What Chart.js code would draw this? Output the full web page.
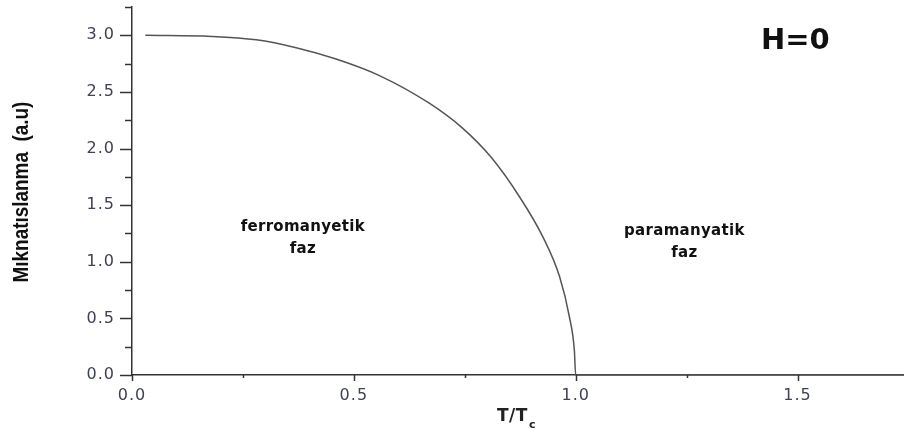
<!DOCTYPE html>
<html>
<head>
<meta charset="utf-8">
<script src="https://cdn.jsdelivr.net/npm/chart.js@4.4.0/dist/chart.umd.min.js"></script>
<style>
  html, body { margin: 0; padding: 0; background: #fff; }
  #wrap { width: 904px; height: 441px; }
</style>
</head>
<body>
<div id="wrap"><canvas id="magnet"></canvas></div>
<script>
// reduced temperature T/Tc and magnetization along the curve
var temps = [0.03, 0.18, 0.28, 0.37, 0.46, 0.56, 0.67, 0.745, 0.81, 0.874, 0.926, 0.964, 0.986, 0.997, 1.0, 1.2, 1.4, 1.6, 1.74];
var magn  = [3.00, 2.99, 2.96, 2.89, 2.79, 2.64, 2.40, 2.18, 1.92, 1.57, 1.22, 0.865, 0.51, 0.22, 0.0, 0.0, 0.0, 0.0, 0.0];

var xTicks = [0.0, 0.5, 1.0, 1.5];
var yTicks = [0.0, 0.5, 1.0, 1.5, 2.0, 2.5, 3.0];

var phaseLabels = [
  { lines: ['ferromanyetik', 'faz'], x: 0.385, y: 1.31 },
  { lines: ['paramanyatik', 'faz'], x: 1.245, y: 1.27 }
];

var points = temps.map(function (t, i) { return { x: t, y: magn[i] }; });

var axisColor = '#333';
var labelColor = '#3f4250';
var tickFont = { family: 'DejaVu Sans, sans-serif', size: 16 };

// slightly wider spacing for the tick numbers
var spacing = {
  id: 'spacing',
  beforeDraw: function (chart) { chart.ctx.letterSpacing = '1px'; },
  afterDraw: function (chart) { chart.ctx.letterSpacing = '0px'; }
};

// ticks every 0.25, longer ones where a label sits
var tickMarks = {
  id: 'tickMarks',
  afterDraw: function (chart) {
    var ctx = chart.ctx, xs = chart.scales.x, ys = chart.scales.y;
    ctx.save();
    ctx.strokeStyle = axisColor;
    ctx.lineWidth = 1.5;
    var v, p, major;
    for (v = 0; v <= xs.max + 1e-6; v += 0.25) {
      p = Math.round(xs.getPixelForValue(v)) + 0.5;
      major = Math.abs(v * 2 - Math.round(v * 2)) < 1e-6;
      ctx.beginPath();
      ctx.moveTo(p, ys.bottom);
      ctx.lineTo(p, ys.bottom + (major ? 6 : 3));
      ctx.stroke();
    }
    for (v = 0; v <= ys.max + 1e-6; v += 0.25) {
      p = Math.round(ys.getPixelForValue(v)) + 0.5;
      major = Math.abs(v * 2 - Math.round(v * 2)) < 1e-6;
      ctx.beginPath();
      ctx.moveTo(xs.left, p);
      ctx.lineTo(xs.left - (major ? 12 : 7), p);
      ctx.stroke();
    }
    ctx.restore();
  }
};

// text inside the plot, the axis titles
var plotText = {
  id: 'plotText',
  afterDraw: function (chart) {
    var ctx = chart.ctx, xs = chart.scales.x, ys = chart.scales.y;
    ctx.save();
    ctx.letterSpacing = '0.3px';
    ctx.fillStyle = '#111';
    ctx.textAlign = 'center';
    ctx.textBaseline = 'middle';
    ctx.font = 'bold 15px "DejaVu Sans", sans-serif';
    phaseLabels.forEach(function (lab) {
      var cx = xs.getPixelForValue(lab.x), cy = ys.getPixelForValue(lab.y);
      lab.lines.forEach(function (s, i) {
        ctx.fillText(s, cx, cy + i * 22);
      });
    });
    ctx.letterSpacing = '0px';
    ctx.font = 'bold 29px "DejaVu Sans", sans-serif';
    ctx.fillText('H=0', xs.getPixelForValue(1.495), ys.getPixelForValue(2.95));

    // x title T/Tc
    ctx.fillStyle = '#222';
    ctx.textAlign = 'left';
    ctx.font = 'bold 17px "DejaVu Sans", sans-serif';
    ctx.letterSpacing = '0.5px';
    var main = 'T/T';
    var w = ctx.measureText(main).width;
    var x0 = 497;
    ctx.fillText(main, x0, 417);
    ctx.font = 'bold 11px "DejaVu Sans", sans-serif';
    ctx.fillText('c', x0 + w + 1, 425);
    ctx.letterSpacing = '0px';

    // y title, condensed bold
    ctx.save();
    ctx.translate(22, (ys.top + ys.bottom) / 2 + 1);
    ctx.rotate(-Math.PI / 2);
    ctx.scale(0.86, 1);
    ctx.textAlign = 'center';
    ctx.fillStyle = '#111';
    ctx.font = 'bold 22px "Liberation Sans", Arial, sans-serif';
    ctx.fillText('Mıknatıslanma  (a.u)', 0, 0);
    ctx.restore();

    ctx.restore();
  }
};

var ctx = document.getElementById('magnet').getContext('2d');
var chart = new Chart(ctx, {
  type: 'scatter',
  data: {
    datasets: [{
      data: points,
      showLine: true,
      borderColor: '#555',
      borderWidth: 1.5,
      pointRadius: 0,
      cubicInterpolationMode: 'monotone',
      clip: false
    }]
  },
  options: {
    responsive: true,
    maintainAspectRatio: false,
    animation: false,
    layout: { padding: { top: 7, right: 0, left: 0, bottom: 0 } },
    plugins: { legend: { display: false }, tooltip: { enabled: false } },
    scales: {
      x: {
        type: 'linear',
        min: 0,
        max: 1.74,
        afterFit: function (s) { s.height = 66; s.paddingLeft = 0; s.paddingRight = 0; },
        afterBuildTicks: function (s) { s.ticks = xTicks.map(function (v) { return { value: v }; }); },
        grid: { drawOnChartArea: false, drawTicks: false },
        border: { display: true, color: axisColor, width: 1.5 },
        ticks: {
          padding: 11,
          color: labelColor,
          font: tickFont,
          maxRotation: 0,
          callback: function (v) { return v.toFixed(1); }
        }
      },
      y: {
        type: 'linear',
        min: 0,
        max: 3.25,
        afterFit: function (s) { s.width = 132; s.paddingTop = 0; s.paddingBottom = 0; },
        afterBuildTicks: function (s) { s.ticks = yTicks.map(function (v) { return { value: v }; }); },
        grid: { drawOnChartArea: false, drawTicks: false },
        border: { display: true, color: axisColor, width: 1.5 },
        ticks: {
          padding: 17,
          color: labelColor,
          font: tickFont,
          callback: function (v) { return v.toFixed(1); }
        }
      }
    }
  },
  plugins: [spacing, tickMarks, plotText]
});
</script>
</body>
</html>
